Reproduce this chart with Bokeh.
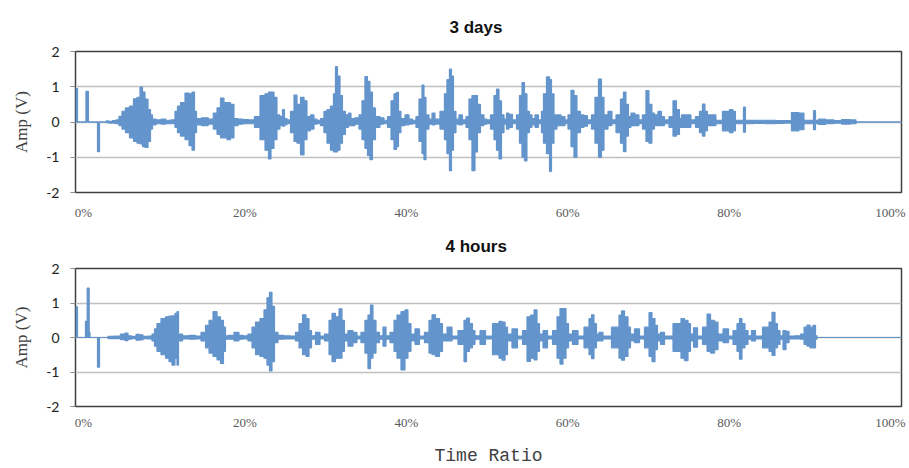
from bokeh.plotting import figure
from bokeh.models import FixedTicker, Range1d, ColumnDataSource
from bokeh.layouts import column
from bokeh.embed import file_html
from bokeh.resources import INLINE

# ---------------- data (envelope of the signal) ----------------
panel_titles = ["3 days", "4 hours"]
y_ticks = [-2, -1, 0, 1, 2]
y_tick_labels = ["-2", "-1", "0", "1", "2"]
x_ticks = [0, 20, 40, 60, 80, 100]
x_tick_labels = ["0%", "20%", "40%", "60%", "80%", "100%"]

# 3 days: time ratio (%), upper envelope (V), lower envelope (V)
days_x = [-0.95, -0.94, -0.75, -0.74, 0.30, 0.31, 0.60, 0.61, 1.73, 1.74, 1.98, 1.99, 2.73, 2.9, 3.35, 3.8,
          4.21, 4.58, 4.96, 5.45, 5.95, 6.44, 6.82, 7.19, 7.43, 7.81, 8.18, 8.43, 8.67, 9.3, 9.91, 10.5,
          11.15, 11.52, 11.77, 12.27, 12.89, 13.26, 13.63, 13.88, 14.13, 15.12, 15.8,
          16.36, 16.73, 17.22, 17.59, 17.97, 18.46, 18.83, 19.5, 20.07, 20.8,
          21.56, 22.18, 22.80, 23.05, 23.42, 23.79, 24.16, 24.53, 24.78, 25.03, 25.40,
          25.90, 26.27, 26.64, 27.14, 27.51, 27.88, 28.37, 28.75, 29.12,
          29.61, 29.98, 30.36, 30.85, 31.10, 31.35, 31.60, 31.97, 32.21, 32.71, 32.96, 33.33, 33.95,
          34.32, 34.69, 35.06, 35.31, 35.68, 35.93, 36.43, 37.05, 37.42,
          37.92, 38.29, 38.66, 38.91, 39.15, 39.52, 40.15, 40.52, 41.01,
          41.38, 41.76, 42.13, 42.25, 42.62, 43.00, 43.37, 43.74,
          44.60, 44.85, 45.22, 45.47, 45.72, 45.97, 46.34, 46.71, 47.21,
          47.58, 47.95, 48.32, 48.70, 48.94, 49.44, 49.81, 50.18,
          50.68, 51.05, 51.30, 51.67, 51.92, 52.29, 52.54, 52.91, 53.40,
          53.90, 54.15, 54.52, 54.76, 55.14, 55.39, 55.76, 56.13, 56.62,
          56.87, 57.12, 57.62, 57.87, 58.11, 58.49, 58.86, 59.48, 59.85,
          60.22, 60.59, 60.96, 61.33, 61.83, 62.20, 62.70,
          63.19, 63.56, 64.06, 64.31, 64.68, 65.30, 65.67,
          66.29, 66.78, 67.03, 67.40, 67.65, 68.02, 68.64, 69.01,
          69.51, 69.88, 70.25, 70.62, 70.87, 71.49, 71.74, 72.24,
          72.86, 73.23, 73.72, 73.97, 74.22, 74.96, 75.58,
          76.08, 76.57, 76.82, 77.19, 77.44, 78.18, 78.55,
          79.79, 80.29, 80.66, 80.91, 81.65, 81.90, 82.15, 83.88, 85.12, 86.36, 87.23,
          88.22, 89.09, 89.46, 90.33, 90.58, 90.83, 91.32, 92.56, 93.43, 94.42, 95.66, 95.79, 101.36]
days_hi = [0.0, 0.95, 0.95, 0.0, 0.0, 0.87, 0.87, 0.0, 0.0, 0.0, 0.0, 0.0, 0.0, 0.03, 0.02, 0.04,
           0.06, 0.16, 0.30, 0.40, 0.45, 0.66, 0.70, 0.99, 0.85, 0.65, 0.35, 0.20, 0.08, 0.06, 0.08, 0.05,
           0.06, 0.30, 0.45, 0.55, 0.82, 0.80, 0.85, 0.30, 0.10, 0.12, 0.08,
           0.25, 0.40, 0.68, 0.55, 0.55, 0.50, 0.10, 0.08, 0.07, 0.06,
           0.15, 0.75, 0.80, 0.85, 0.85, 0.70, 0.20, 0.15, 0.35, 0.10, 0.06,
           0.30, 0.76, 0.50, 0.70, 0.60, 0.15, 0.20, 0.08, 0.05,
           0.10, 0.30, 0.35, 0.45, 0.80, 1.57, 1.30, 0.75, 0.30, 0.20, 0.25, 0.10, 0.12,
           0.20, 0.60, 1.29, 1.15, 0.85, 0.40, 0.15, 0.12, 0.05,
           0.15, 0.60, 0.80, 0.84, 0.30, 0.10, 0.20, 0.08, 0.05,
           0.15, 0.65, 1.05, 0.70, 0.20, 0.08, 0.25, 0.08,
           0.30, 0.80, 1.20, 1.50, 1.30, 0.30, 0.08, 0.20, 0.06,
           0.15, 0.65, 0.75, 0.75, 0.50, 0.20, 0.08, 0.06,
           0.20, 0.75, 0.93, 0.60, 0.20, 0.08, 0.25, 0.22, 0.06,
           0.20, 0.75, 1.12, 0.80, 0.30, 0.20, 0.10, 0.20, 0.06,
           0.30, 0.80, 1.28, 1.20, 0.80, 0.20, 0.20, 0.15, 0.06,
           0.20, 0.90, 0.75, 0.30, 0.20, 0.18, 0.06,
           0.20, 0.70, 1.22, 0.70, 0.20, 0.30, 0.06,
           0.20, 0.65, 0.85, 0.50, 0.15, 0.25, 0.20, 0.06,
           0.20, 0.89, 0.50, 0.25, 0.20, 0.30, 0.15, 0.06,
           0.15, 0.60, 0.35, 0.10, 0.20, 0.20, 0.06,
           0.15, 0.30, 0.51, 0.30, 0.20, 0.20, 0.05,
           0.30, 0.35, 0.30, 0.05, 0.05, 0.42, 0.05, 0.05, 0.05, 0.04, 0.04,
           0.27, 0.25, 0.05, 0.05, 0.32, 0.05, 0.08, 0.06, 0.04, 0.07, 0.06, 0.0, 0.0]
days_lo = [0.0, 0.0, 0.0, 0.0, 0.0, 0.0, 0.0, 0.0, 0.0, -0.84, -0.84, 0.0, 0.0, -0.02, -0.03, -0.03,
           -0.05, -0.10, -0.20, -0.30, -0.45, -0.55, -0.60, -0.62, -0.70, -0.72, -0.55, -0.20, -0.08, -0.05, -0.06, -0.05,
           -0.05, -0.15, -0.30, -0.40, -0.50, -0.67, -0.80, -0.30, -0.08, -0.10, -0.06,
           -0.20, -0.35, -0.45, -0.45, -0.50, -0.45, -0.10, -0.06, -0.05, -0.05,
           -0.15, -0.50, -0.80, -1.05, -0.75, -0.50, -0.20, -0.10, -0.12, -0.08, -0.05,
           -0.30, -0.55, -0.60, -0.93, -0.50, -0.25, -0.20, -0.06, -0.05,
           -0.10, -0.30, -0.60, -0.80, -0.85, -0.85, -0.80, -0.60, -0.35, -0.15, -0.10, -0.10, -0.06,
           -0.20, -0.50, -0.75, -0.95, -1.07, -0.50, -0.15, -0.06, -0.05,
           -0.15, -0.50, -0.78, -0.70, -0.30, -0.10, -0.08, -0.06, -0.05,
           -0.15, -0.55, -0.90, -1.07, -0.20, -0.06, -0.08, -0.06,
           -0.20, -0.50, -0.90, -1.38, -0.80, -0.30, -0.06, -0.08, -0.05,
           -0.15, -0.50, -1.38, -0.85, -0.30, -0.10, -0.06, -0.05,
           -0.20, -0.50, -0.80, -1.05, -0.30, -0.06, -0.20, -0.15, -0.05,
           -0.20, -0.60, -1.00, -1.10, -0.30, -0.15, -0.08, -0.15, -0.05,
           -0.30, -0.60, -0.90, -1.40, -0.60, -0.20, -0.10, -0.10, -0.05,
           -0.20, -0.70, -1.00, -0.30, -0.15, -0.12, -0.05,
           -0.20, -0.60, -1.00, -0.80, -0.20, -0.10, -0.05,
           -0.30, -0.60, -0.84, -0.40, -0.15, -0.10, -0.10, -0.05,
           -0.20, -0.55, -0.60, -0.20, -0.10, -0.10, -0.10, -0.05,
           -0.15, -0.40, -0.35, -0.15, -0.15, -0.15, -0.05,
           -0.15, -0.30, -0.40, -0.25, -0.10, -0.10, -0.05,
           -0.25, -0.30, -0.25, -0.05, -0.05, -0.29, -0.05, -0.04, -0.05, -0.04, -0.03,
           -0.25, -0.22, -0.05, -0.05, -0.22, -0.05, -0.07, -0.05, -0.03, -0.06, -0.05, 0.0, 0.0]

# 4 hours
hours_x = [-0.95, -0.94, -0.75, -0.74, 0.24, 0.25, 0.45, 0.46, 0.70, 0.71, 0.80, 0.81, 1.73, 1.74, 1.98, 1.99, 2.73,
           3.35, 4.21, 4.96, 5.33, 5.70, 6.20, 6.82, 7.19, 7.56, 8.30,
           8.67, 8.92, 9.29, 9.91, 10.41, 10.78, 11.15, 11.52, 11.65, 11.90, 12.64, 13.51, 14.25,
           14.87, 15.37, 15.74, 16.36, 16.73, 17.22, 17.47, 17.72, 18.22, 19.08, 19.45, 20.07,
           20.69, 21.07, 21.56, 22.18, 22.55, 22.92, 23.17, 23.54, 23.79, 24.41, 25.28, 26.02,
           26.52, 26.89, 27.39, 27.76, 28.13, 28.38, 29.12, 29.49,
           30.24, 30.61, 30.98, 31.47, 31.85, 32.21, 32.46, 33.08, 33.70, 34.07,
           34.69, 35.06, 35.44, 35.68, 36.06, 36.43, 36.92, 37.30, 37.67,
           38.29, 38.66, 39.03, 39.65, 40.02, 40.39, 40.77, 41.38, 41.88,
           42.62, 43.00, 43.37, 43.87, 44.36, 44.61, 45.48, 45.85,
           46.96, 47.34, 47.58, 48.08, 48.32, 48.70, 49.57, 50.06,
           51.30, 51.67, 52.05, 52.42, 52.66, 53.53, 54.03,
           54.77, 55.14, 55.64, 56.01, 56.38, 56.63, 57.25, 57.75,
           58.49, 58.86, 59.23, 59.60, 59.98, 60.22, 60.97, 61.59,
           62.45, 62.83, 63.07, 63.44, 63.69, 64.06, 64.68,
           66.17, 66.54, 66.79, 67.29, 67.65, 67.90, 68.65, 69.14,
           69.89, 70.26, 70.63, 71.00, 71.25, 71.75, 72.24,
           73.85, 74.22, 74.72, 75.09, 75.34, 75.84, 76.33,
           77.08, 77.45, 77.95, 78.44, 78.81, 79.68, 80.17,
           80.79, 81.16, 81.41, 81.78, 82.15, 82.53, 83.02, 83.52,
           84.76, 85.13, 85.50, 85.87, 86.12, 86.49, 86.86, 87.24, 87.61, 88.60,
           89.10, 89.47, 89.84, 90.21, 90.58, 90.83, 90.95, 101.36]
hours_hi = [0.0, 0.89, 0.89, 0.0, 0.0, 0.47, 0.47, 1.43, 1.43, 0.15, 0.15, 0.0, 0.0, 0.0, 0.0, 0.0, 0.0,
            0.03, 0.04, 0.10, 0.13, 0.05, 0.03, 0.09, 0.08, 0.03, 0.04,
            0.10, 0.25, 0.40, 0.55, 0.60, 0.62, 0.63, 0.70, 0.75, 0.10, 0.05, 0.06, 0.04,
            0.15, 0.35, 0.50, 0.75, 0.60, 0.50, 0.30, 0.05, 0.06, 0.15, 0.06, 0.05,
            0.10, 0.30, 0.45, 0.55, 0.80, 1.15, 1.31, 0.90, 0.15, 0.06, 0.05, 0.04,
            0.15, 0.40, 0.66, 0.55, 0.20, 0.05, 0.15, 0.04,
            0.10, 0.50, 0.70, 0.60, 0.83, 0.50, 0.10, 0.20, 0.15, 0.04,
            0.15, 0.50, 0.65, 0.94, 0.50, 0.15, 0.05, 0.30, 0.05,
            0.15, 0.50, 0.65, 0.75, 0.80, 0.40, 0.10, 0.25, 0.04,
            0.15, 0.50, 0.66, 0.55, 0.40, 0.10, 0.30, 0.04,
            0.20, 0.50, 0.56, 0.40, 0.20, 0.05, 0.20, 0.04,
            0.40, 0.47, 0.45, 0.30, 0.10, 0.25, 0.04,
            0.20, 0.60, 0.65, 0.80, 0.40, 0.10, 0.20, 0.04,
            0.20, 0.60, 0.84, 0.84, 0.40, 0.10, 0.20, 0.04,
            0.30, 0.55, 0.66, 0.40, 0.10, 0.15, 0.04,
            0.30, 0.65, 0.77, 0.60, 0.30, 0.10, 0.25, 0.04,
            0.30, 0.72, 0.55, 0.35, 0.10, 0.15, 0.04,
            0.40, 0.55, 0.50, 0.40, 0.10, 0.28, 0.04,
            0.30, 0.68, 0.50, 0.45, 0.10, 0.25, 0.04,
            0.20, 0.40, 0.55, 0.40, 0.20, 0.05, 0.20, 0.04,
            0.30, 0.45, 0.73, 0.40, 0.20, 0.05, 0.20, 0.18, 0.04, 0.05,
            0.10, 0.30, 0.36, 0.30, 0.35, 0.05, 0.0, 0.0]
hours_lo = [0.0, 0.0, 0.0, 0.0, 0.0, 0.0, 0.0, 0.0, 0.0, 0.0, 0.0, 0.0, 0.0, -0.86, -0.86, 0.0, 0.0,
            -0.03, -0.03, -0.06, -0.09, -0.05, -0.03, -0.08, -0.07, -0.03, -0.04,
            -0.10, -0.25, -0.40, -0.50, -0.60, -0.70, -0.80, -0.60, -0.80, -0.10, -0.04, -0.05, -0.04,
            -0.10, -0.30, -0.45, -0.55, -0.65, -0.75, -0.40, -0.05, -0.05, -0.10, -0.05, -0.04,
            -0.10, -0.30, -0.50, -0.55, -0.60, -0.80, -0.97, -0.70, -0.15, -0.05, -0.04, -0.04,
            -0.10, -0.30, -0.50, -0.55, -0.30, -0.05, -0.20, -0.04,
            -0.10, -0.50, -0.70, -0.60, -0.60, -0.40, -0.10, -0.25, -0.15, -0.04,
            -0.15, -0.45, -0.90, -0.60, -0.45, -0.15, -0.05, -0.25, -0.05,
            -0.15, -0.40, -0.60, -0.94, -0.60, -0.40, -0.10, -0.20, -0.04,
            -0.15, -0.45, -0.50, -0.55, -0.40, -0.10, -0.10, -0.04,
            -0.20, -0.70, -0.40, -0.30, -0.20, -0.05, -0.20, -0.04,
            -0.50, -0.60, -0.66, -0.50, -0.10, -0.30, -0.04,
            -0.20, -0.69, -0.60, -0.65, -0.40, -0.10, -0.30, -0.04,
            -0.20, -0.60, -0.77, -0.60, -0.30, -0.10, -0.20, -0.04,
            -0.30, -0.50, -0.61, -0.30, -0.10, -0.10, -0.04,
            -0.30, -0.60, -0.66, -0.55, -0.30, -0.10, -0.15, -0.04,
            -0.30, -0.55, -0.70, -0.35, -0.10, -0.20, -0.04,
            -0.40, -0.60, -0.67, -0.40, -0.10, -0.28, -0.04,
            -0.20, -0.40, -0.45, -0.35, -0.10, -0.15, -0.04,
            -0.20, -0.40, -0.63, -0.30, -0.20, -0.05, -0.10, -0.04,
            -0.30, -0.40, -0.52, -0.30, -0.20, -0.05, -0.35, -0.15, -0.04, -0.04,
            -0.05, -0.20, -0.25, -0.30, -0.30, -0.05, 0.0, 0.0]

SIGNAL = "#6394CC"


def make_panel(title, xs, hi, lo, height, border_top, border_bottom,
               title_standoff, title_offset, x_label=None):
    p = figure(width=909, height=height, title=title,
               x_range=Range1d(-0.99, 101.36), y_range=Range1d(-2, 2),
               output_backend="svg", toolbar_location=None,
               min_border_left=75, min_border_right=8,
               min_border_top=border_top, min_border_bottom=border_bottom)
    p.background_fill_color = "white"
    p.outline_line_color = "#404040"
    p.outline_line_width = 1.5

    p.title.align = "left"
    p.title.offset = title_offset
    p.title.standoff = title_standoff
    p.title.text_font = "Liberation Sans"
    p.title.text_font_style = "bold"
    p.title.text_font_size = "17px"
    p.title.text_color = "#111111"

    p.xgrid.visible = False
    p.ygrid.ticker = FixedTicker(ticks=y_ticks)
    p.ygrid.grid_line_color = "#c0c0c0"
    p.ygrid.grid_line_width = 1.3

    ya = p.yaxis[0]
    ya.ticker = FixedTicker(ticks=y_ticks)
    ya.major_label_overrides = dict(zip(y_ticks, y_tick_labels))
    ya.axis_line_color = None
    ya.major_tick_in = 0
    ya.major_tick_out = 5
    ya.major_tick_line_color = "#8c8c8c"
    ya.minor_tick_line_color = None
    ya.major_label_standoff = 11
    ya.major_label_text_font = "Lato"
    ya.major_label_text_font_size = "14px"
    ya.major_label_text_color = "#222222"
    ya.axis_label = "Amp (V)"
    ya.axis_label_text_font = "Liberation Serif"
    ya.axis_label_text_font_size = "17px"
    ya.axis_label_text_font_style = "normal"
    ya.axis_label_text_color = "#404040"
    ya.axis_label_standoff = 12

    xa = p.xaxis[0]
    xa.ticker = FixedTicker(ticks=x_ticks)
    xa.major_label_overrides = dict(zip(x_ticks, x_tick_labels))
    xa.axis_line_color = None
    xa.major_tick_in = 0
    xa.major_tick_out = 0
    xa.major_tick_line_color = None
    xa.minor_tick_line_color = None
    xa.major_label_text_font = "Liberation Serif"
    xa.major_label_text_font_size = "13px"
    xa.major_label_text_color = "#595959"
    if x_label:
        xa.major_label_standoff = 8
        xa.axis_label = x_label
        xa.axis_label_text_font = "Liberation Mono"
        xa.axis_label_text_font_size = "18px"
        xa.axis_label_text_font_style = "normal"
        xa.axis_label_text_color = "#404040"
        xa.axis_label_standoff = 13
    else:
        xa.major_label_standoff = 12

    src = ColumnDataSource(dict(x=xs, hi=hi, lo=lo))
    p.varea_step(x="x", y1="lo", y2="hi", step_mode="center", source=src, fill_color=SIGNAL)
    p.step(x="x", y="hi", mode="center", source=src, line_color=SIGNAL, line_width=1.2)
    p.step(x="x", y="lo", mode="center", source=src, line_color=SIGNAL, line_width=1.2)
    return p


p1 = make_panel(panel_titles[0], days_x, days_hi, days_lo, 222, 51, 30, 30, 374)
p2 = make_panel(panel_titles[1], hours_x, hours_hi, hours_lo, 246, 46, 58, 25, 370,
                x_label="Time Ratio")

layout = column(p1, p2)
open("out.html", "w").write(file_html(layout, INLINE))
